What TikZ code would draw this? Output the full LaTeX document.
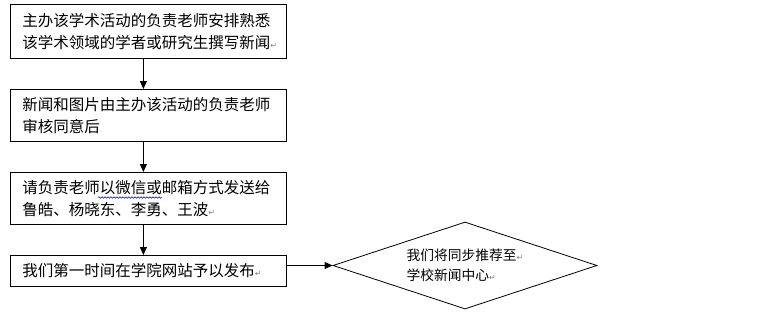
\documentclass[tikz,border=0pt]{standalone}
\usepackage{fontspec}
\setmainfont{Noto Sans CJK SC}
\newfontfamily\symfont{DejaVu Sans}
\usetikzlibrary{shapes.geometric,arrows.meta,decorations.pathmorphing}
\newcommand\pmark{{\symfont\color{gray}\fontsize{8}{8}\selectfont ↵}}
\newcommand\dotmark{{\symfont\color{gray!70}\fontsize{7}{7}\selectfont .}}
\begin{document}
\begin{tikzpicture}[x=1pt,y=-1pt,
  box/.style={draw, line width=0.8pt, minimum width=276pt, text width=252pt,
    inner xsep=12pt, inner ysep=3pt, align=left, anchor=north west,
    font=\fontsize{15.5}{22}\selectfont},
  arr/.style={-{Triangle[length=8pt,width=7pt]}, line width=0.8pt},
  dia/.style={draw, diamond, line width=0.8pt, minimum width=264pt, minimum height=87pt,
    inner sep=0pt, aspect=3, align=left, font=\fontsize{13.75}{20}\selectfont},
  wave/.style={draw=blue!75!black, line width=0.5pt, decorate,
    decoration={snake, amplitude=0.8pt, segment length=3pt}}]
\useasboundingbox (0,0) rectangle (767,332);
\node[box, minimum height=54pt] (b1) at (10,4)
  {主办该学术活动的负责老师安排熟悉\\该学术领域的学者或研究生撰写新闻\pmark};
\node[box, minimum height=52pt] (b2) at (10,89)
  {新闻和图片由主办该活动的负责老师\\审核同意后\dotmark};
\node[box, minimum height=52pt] (b3) at (10,172)
  {请负责老师以微信或邮箱方式发送给\\鲁皓、杨晓东、李勇、王波\pmark};
\node[box, minimum height=31pt] (b4) at (10,255)
  {我们第一时间在学院网站予以发布\pmark};
\node[dia] (d) at (465,265.5) {我们将同步推荐至\pmark\\学校新闻中心\pmark};
\draw[arr] ([xshift=-5pt]b1.south) -- ([xshift=-5pt]b2.north);
\draw[arr] ([xshift=-5pt]b2.south) -- ([xshift=-5pt]b3.north);
\draw[arr] ([xshift=-5pt]b3.south) -- ([xshift=-5pt]b4.north);
\draw[arr] (b4.east |- d.west) -- (d.west);
\path[wave] ([shift={(88,25.5)}]b3.north west) -- ([shift={(152,25.5)}]b3.north west);
\end{tikzpicture}
\end{document}
